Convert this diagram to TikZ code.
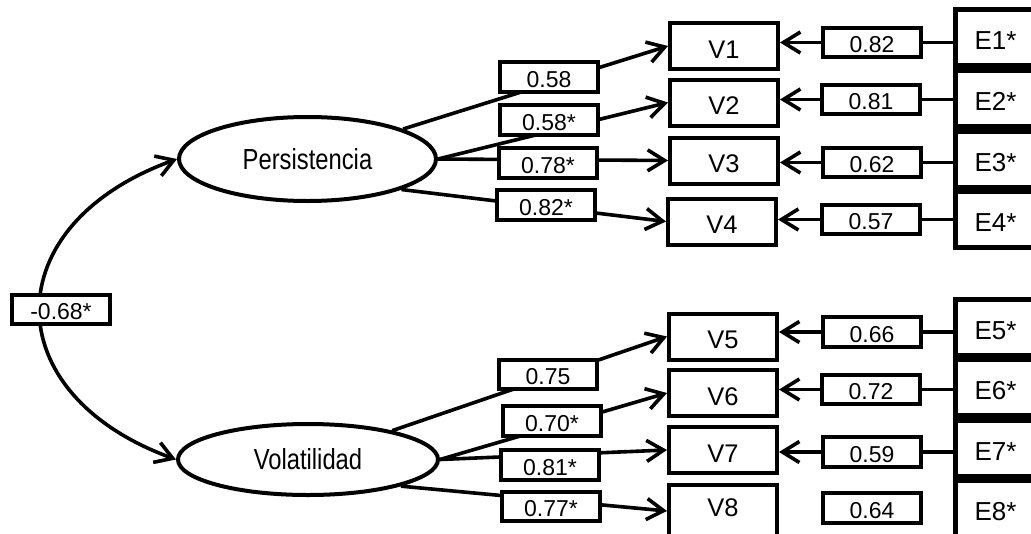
\documentclass[tikz,border=0pt]{standalone}
\usepackage{fontspec}
\setmainfont{Liberation Sans}
\newfontfamily\latentfont[FakeStretch=0.82]{Liberation Sans}
\usetikzlibrary{arrows.meta,shapes.geometric}

\begin{document}
\begin{tikzpicture}[x=1pt,y=-1pt,
  conn/.style={line width=3.6pt},
  arr/.style={conn,-{Straight Barb[length=17pt,width=21pt]}},
  dblarr/.style={conn,{Straight Barb[length=17pt,width=21pt]}-{Straight Barb[length=17pt,width=21pt]}},
  latent/.style={ellipse,draw,line width=4pt,inner sep=0pt,
    font=\latentfont\fontsize{29}{29}\selectfont},
  obs/.style={rectangle,draw,line width=4pt,minimum width=108pt,minimum height=46pt,
    inner sep=0pt,text height=24.3pt,text depth=0pt,font=\fontsize{25.5}{25.5}\selectfont},
  coef/.style={rectangle,draw,fill=white,line width=3.6pt,minimum width=97.5pt,
    minimum height=29.5pt,inner sep=0pt,text height=20.5pt,text depth=0pt,
    font=\fontsize{23}{23}\selectfont},
  err/.style={rectangle,draw,line width=5pt,minimum width=80pt,minimum height=56pt,
    inner sep=0pt,text height=24.6pt,text depth=0pt,font=\fontsize{26}{26}\selectfont}
]
\useasboundingbox[fill=white] (0,0) rectangle (1031,533);

% latent factors
\node[latent,minimum width=257pt,minimum height=84pt] (P) at (307.5,159) {Persistencia};
\node[latent,minimum width=260pt,minimum height=71pt] (Q) at (308,459.5) {Volatilidad};

% observed indicators
\node[obs] (V1) at (724,46) {V1};
\node[obs] (V2) at (724,102.5) {V2};
\node[obs] (V3) at (724,160.5) {V3};
\node[obs] (V4) at (722,221.5) {V4};
\node[obs] (V5) at (723,336.5) {V5};
\node[obs] (V6) at (723,393) {V6};
\node[obs] (V7) at (723,450) {V7};
\node[obs,minimum height=52pt,text height=11.5pt] (V8) at (723,511) {V8};

% error terms
\node[err] (E1) at (995.5,37.5) {E1*};
\node[err] (E2) at (995.5,98) {E2*};
\node[err] (E3) at (995.5,159) {E3*};
\node[err] (E4) at (995.5,219) {E4*};
\node[err] (E5) at (995.5,327.5) {E5*};
\node[err] (E6) at (995.5,387.5) {E6*};
\node[err] (E7) at (995.5,448) {E7*};
\node[err] (E8) at (995.5,508.5) {E8*};

% loadings
\draw[arr] (P) -- (V1.west);
\draw[arr] (P.east) -- (V2.west);
\draw[arr] (P.east) -- (V3.west);
\draw[arr] (P.-18) -- (V4.west);
\draw[arr] (Q) -- (V5.west);
\draw[arr] (Q.east) -- (V6.west);
\draw[arr] (Q.east) -- (V7.west);
\draw[arr] (Q.-16) -- (V8.west);

% factor correlation
\draw[dblarr] (P.west) .. controls (-5,225) and (-5,393.5) .. (Q.west);
\node[coef] (k) at (61,309.5) {-0.68*};

% loading coefficients
\node[coef] (a1) at (549,77) {0.58};
\node[coef] (a2) at (549,120) {0.58*};
\node[coef] (a3) at (548,163) {0.78*};
\node[coef] (a4) at (546,205) {0.82*};
\node[coef] (a5) at (548,374.5) {0.75};
\node[coef] (a6) at (552,421) {0.70*};
\node[coef] (a7) at (550,465) {0.81*};
\node[coef] (a8) at (551,506.5) {0.77*};

% error paths
\coordinate (b1) at (872,42.5);
\coordinate (b2) at (871,99.5);
\coordinate (b3) at (872,162.5);
\coordinate (b4) at (871,219.5);
\coordinate (b5) at (872,332);
\coordinate (b6) at (871,389.5);
\coordinate (b7) at (872,452);
\coordinate (b8) at (872,508);
\foreach \i in {1,...,7}{
  \draw[arr] (E\i.west |- b\i) -- (V\i.east |- b\i);
}
\node[coef] (r1) at (b1) {0.82};
\node[coef] (r2) at (b2) {0.81};
\node[coef] (r3) at (b3) {0.62};
\node[coef] (r4) at (b4) {0.57};
\node[coef] (r5) at (b5) {0.66};
\node[coef] (r6) at (b6) {0.72};
\node[coef] (r7) at (b7) {0.59};
\node[coef] (r8) at (b8) {0.64};
\end{tikzpicture}
\end{document}
